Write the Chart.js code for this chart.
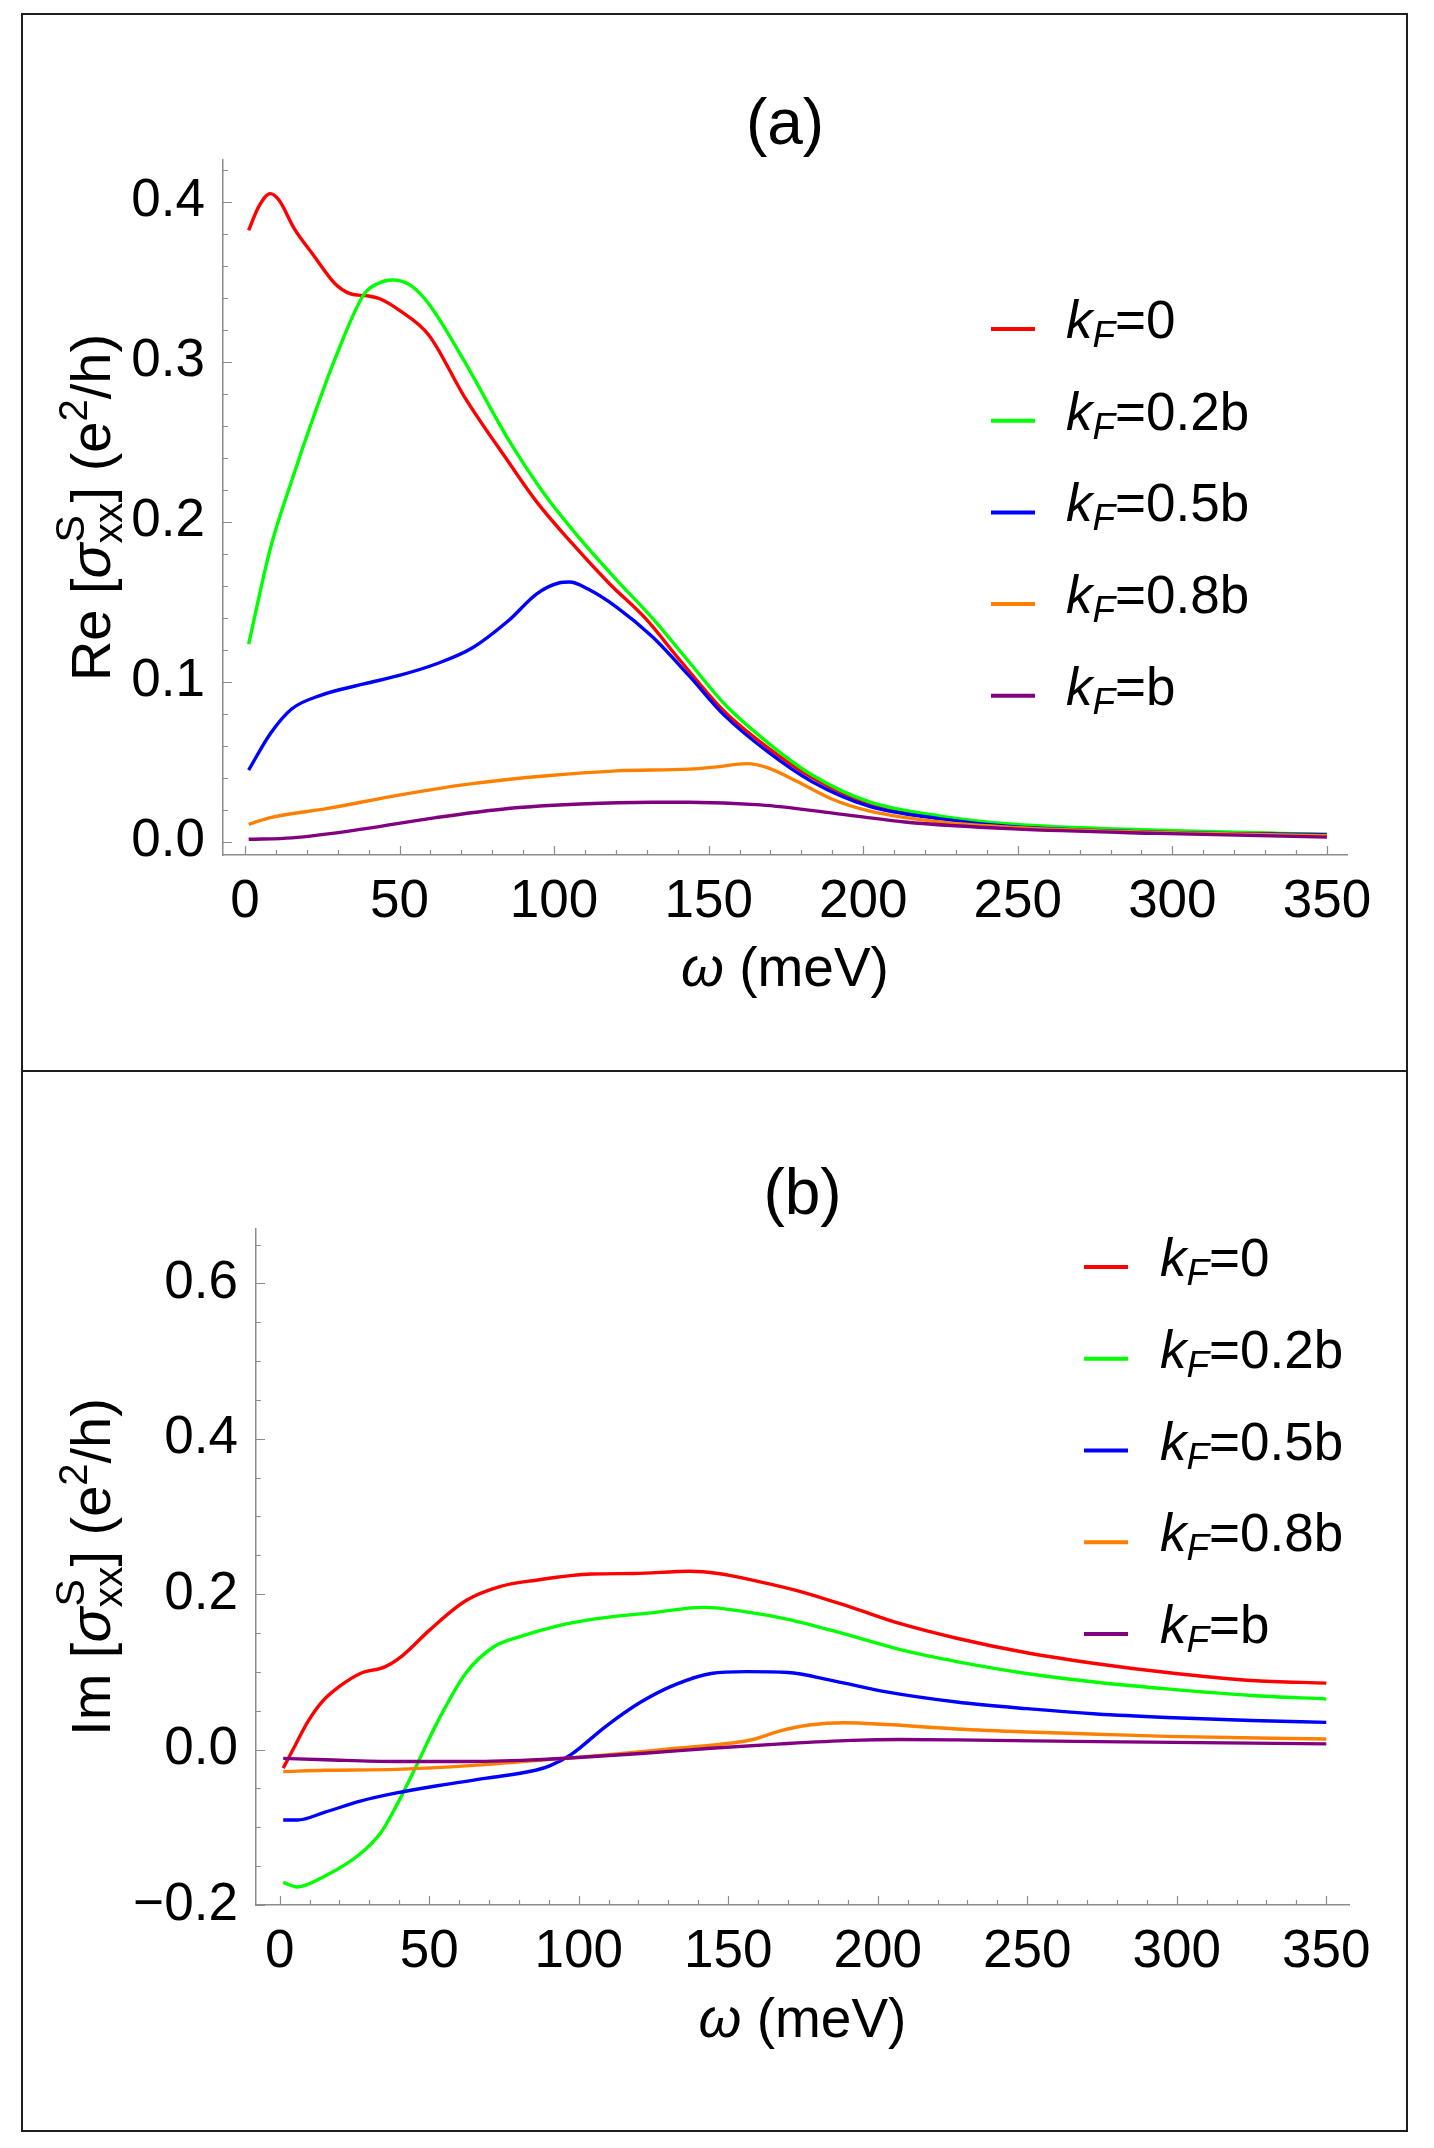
<!DOCTYPE html>
<html>
<head>
<meta charset="utf-8">
<script src="https://cdn.jsdelivr.net/npm/chart.js@4.4.1/dist/chart.umd.min.js"></script>
<style>
  html, body { margin: 0; padding: 0; background: #fff; }
  #page { position: relative; width: 1434px; height: 2148px; overflow: hidden; }
  #page canvas { position: absolute; left: 0; }
  .rule { position: absolute; background: #1e1e1e; }
</style>
</head>
<body>
<div id="page">
  <canvas id="chartRe" width="1434" height="1071" style="top:0"></canvas>
  <canvas id="chartIm" width="1434" height="1077" style="top:1071px"></canvas>
  <div class="rule" style="left:21px;top:13px;width:1387px;height:2px"></div>
  <div class="rule" style="left:21px;top:2130px;width:1387px;height:2px"></div>
  <div class="rule" style="left:21px;top:13px;width:2px;height:2119px"></div>
  <div class="rule" style="left:1406px;top:13px;width:2px;height:2119px"></div>
  <div class="rule" style="left:21px;top:1070px;width:1387px;height:2px"></div>
</div>
<script>
// series labels and colours (k_F values)
const seriesLabels = ['0', '0.2b', '0.5b', '0.8b', 'b'];
const seriesColors = ['#ff0000', '#00ff00', '#0000ff', '#ff8000', '#800080'];

// (a) Re part, omega in meV
const reW_0 = [1.2, 4.5, 8.2, 11, 16, 22, 29, 34, 40, 44, 50, 59.5, 71, 85, 94.5, 106, 118, 129.5, 141, 155, 169, 183, 202, 225, 248.5, 295, 350];
const reV_0 = [0.382, 0.397, 0.405, 0.401, 0.383, 0.367, 0.349, 0.3425, 0.341, 0.339, 0.332, 0.3165, 0.278, 0.238, 0.212, 0.186, 0.161, 0.1396, 0.1127, 0.0815, 0.0589, 0.0405, 0.0235, 0.015, 0.0102, 0.0065, 0.0045];
const reW_02 = [1.2, 8.2, 15.2, 22.2, 29.2, 38.5, 43.2, 47.8, 53.7, 59.5, 71.2, 85.2, 96.8, 108.5, 120.2, 131.8, 143.5, 155.2, 169.2, 183.2, 201.8, 225, 248.5, 295, 350];
const reV_02 = [0.1234, 0.183, 0.226, 0.2655, 0.302, 0.342, 0.349, 0.351, 0.3475, 0.336, 0.2995, 0.2514, 0.2174, 0.189, 0.1636, 0.1396, 0.1127, 0.0858, 0.0617, 0.0419, 0.0249, 0.0159, 0.0108, 0.0071, 0.0045];
const reW_05 = [1.2, 8.2, 15.2, 24.5, 38.5, 50.2, 61.8, 73.5, 85.2, 94.5, 101.5, 105, 110.8, 120.2, 131.8, 143.5, 155.2, 169.2, 183.2, 201.8, 225, 248.5, 295, 350];
const reV_05 = [0.0447, 0.0674, 0.083, 0.0914, 0.0985, 0.104, 0.111, 0.121, 0.138, 0.155, 0.1616, 0.1622, 0.158, 0.1466, 0.128, 0.104, 0.0787, 0.056, 0.0377, 0.0221, 0.0142, 0.0093, 0.0059, 0.0042];
const reW_08 = [1.2, 8.2, 26.8, 50.2, 73.5, 96.8, 120.2, 143.5, 152.8, 162.2, 169.2, 178.5, 190.2, 201.8, 225, 248.5, 295, 350];
const reV_08 = [0.0108, 0.015, 0.0207, 0.0292, 0.0362, 0.041, 0.0442, 0.0453, 0.0467, 0.0487, 0.0461, 0.0377, 0.0263, 0.0192, 0.0122, 0.0088, 0.0057, 0.0037];
const reW_1 = [1.2, 15.2, 38.5, 61.8, 85.2, 108.5, 131.8, 143.5, 166.8, 190.2, 213.5, 248.5, 295, 350];
const reV_1 = [0.0014, 0.0023, 0.0079, 0.015, 0.0207, 0.0235, 0.0246, 0.0246, 0.0229, 0.0178, 0.0122, 0.0079, 0.0051, 0.0028];

// (b) Im part
const imW_0 = [1.2, 4.7, 9.4, 14.1, 19.9, 27, 35.2, 41, 50.4, 62.2, 73.9, 85.6, 104.4, 118.5, 137.2, 146.6, 160.7, 174.8, 191.2, 207.6, 226.4, 249.8, 273.3, 296.7, 324.9, 350];
const imV_0 = [-0.0238, 0.0017, 0.0357, 0.0612, 0.081, 0.098, 0.1065, 0.1207, 0.1547, 0.1915, 0.21, 0.218, 0.226, 0.2266, 0.2295, 0.2266, 0.2159, 0.2028, 0.183, 0.162, 0.1433, 0.1246, 0.1105, 0.0992, 0.089, 0.0856];
const imW_02 = [1.2, 5.9, 15.2, 27, 34, 39.9, 45.7, 52.8, 62.2, 71.5, 80.9, 92.7, 106.7, 123.2, 141.9, 156, 170, 188.8, 210, 226.4, 249.8, 273.3, 296.7, 324.9, 350];
const imV_02 = [-0.171, -0.1768, -0.1626, -0.134, -0.106, -0.066, -0.021, 0.0357, 0.098, 0.132, 0.146, 0.159, 0.1688, 0.1756, 0.183, 0.1773, 0.1677, 0.149, 0.1263, 0.1133, 0.098, 0.0867, 0.0782, 0.0697, 0.0652];
const imW_05 = [1.2, 5.9, 15.2, 27, 38.7, 52.8, 69.2, 85.6, 90.3, 97.3, 109.1, 120.8, 132.5, 144.3, 156, 170, 184.1, 202.9, 226.4, 249.8, 273.3, 296.7, 324.9, 350];
const imV_05 = [-0.0907, -0.0907, -0.0805, -0.0663, -0.0561, -0.0465, -0.0368, -0.0266, -0.021, -0.0068, 0.03, 0.0612, 0.0839, 0.098, 0.1003, 0.0992, 0.0895, 0.0742, 0.0612, 0.0527, 0.0459, 0.0414, 0.0374, 0.0351];
const imW_08 = [1.2, 15.2, 38.7, 62.2, 85.6, 109.1, 132.5, 151.3, 158.3, 167.7, 177.1, 188.8, 202.9, 226.4, 249.8, 273.3, 296.7, 350];
const imV_08 = [-0.0283, -0.0266, -0.0255, -0.021, -0.0142, -0.0068, 0.0017, 0.0085, 0.013, 0.0244, 0.0317, 0.0346, 0.0323, 0.0266, 0.0227, 0.0198, 0.017, 0.0136];
const imW_1 = [1.2, 15.2, 38.7, 62.2, 85.6, 97.3, 120.8, 144.3, 167.7, 191.2, 207.6, 226.4, 273.3, 350];
const imV_1 = [-0.0113, -0.013, -0.0153, -0.0153, -0.013, -0.0108, -0.0051, 0.0017, 0.0074, 0.0119, 0.013, 0.0125, 0.0102, 0.0074];

// tick values
const xTicks = [0, 50, 100, 150, 200, 250, 300, 350];
const reYTicks = [0, 0.1, 0.2, 0.3, 0.4];
const imYTicks = [-0.2, 0, 0.2, 0.4, 0.6];

const FONT = "'Liberation Sans', Arial, Helvetica, sans-serif";
Chart.defaults.font.family = FONT;
Chart.defaults.color = '#000';

function zip(xs, ys) {
  return xs.map((x, i) => ({ x: x, y: ys[i] }));
}

function steps(from, to, step) {
  const out = [];
  for (let v = from; v <= to + 1e-9; v += step) out.push(+v.toFixed(4));
  return out;
}

function fontOf(p) {
  return (p.i ? 'italic ' : '') + p.s + 'px ' + FONT;
}

// groups of text parts; parts in one group share the same x (sup/sub stack)
function richWidth(ctx, groups) {
  let w = 0;
  groups.forEach(g => {
    let gw = 0;
    g.forEach(p => { ctx.font = fontOf(p); gw = Math.max(gw, ctx.measureText(p.t).width + (p.dx || 0)); });
    w += gw;
  });
  return w;
}

function drawRich(ctx, groups, x, y) {
  groups.forEach(g => {
    let gw = 0;
    g.forEach(p => {
      ctx.font = fontOf(p);
      ctx.fillText(p.t, x + (p.dx || 0), y + (p.dy || 0));
      gw = Math.max(gw, ctx.measureText(p.t).width + (p.dx || 0));
    });
    x += gw;
  });
}

const decor = {
  id: 'decor',
  afterDraw(chart, args, o) {
    const { ctx, chartArea: a, scales: { x, y } } = chart;
    ctx.save();

    // inward tick marks
    ctx.strokeStyle = '#8c8c8c';
    ctx.lineWidth = 1.2;
    ctx.beginPath();
    o.xMinor.forEach(v => { const px = Math.round(x.getPixelForValue(v)) + 0.5; ctx.moveTo(px, a.bottom); ctx.lineTo(px, a.bottom - 5); });
    xTicks.forEach(v => { const px = Math.round(x.getPixelForValue(v)) + 0.5; ctx.moveTo(px, a.bottom); ctx.lineTo(px, a.bottom - 9); });
    o.yMinor.forEach(v => { const py = Math.round(y.getPixelForValue(v)) + 0.5; ctx.moveTo(a.left, py); ctx.lineTo(a.left + 5, py); });
    o.yMajor.forEach(v => { const py = Math.round(y.getPixelForValue(v)) + 0.5; ctx.moveTo(a.left, py); ctx.lineTo(a.left + 9, py); });
    ctx.stroke();

    ctx.fillStyle = '#000';
    ctx.textBaseline = 'alphabetic';
    ctx.textAlign = 'left';
    const cx = (a.left + a.right) / 2;

    // panel label
    ctx.font = '64px ' + FONT;
    ctx.textAlign = 'center';
    ctx.fillText(o.title, cx, o.titleY);
    ctx.textAlign = 'left';

    // x axis title
    const xt = [[{ t: '\u03C9', s: 55, i: true }], [{ t: ' (meV)', s: 55 }]];
    drawRich(ctx, xt, cx - richWidth(ctx, xt) / 2, o.xTitleY);

    // y axis title
    const yt = [
      [{ t: o.yPrefix + ' [', s: 56 }],
      [{ t: '\u03C3', s: 58, i: true }],
      [{ t: 'S', s: 41, dy: -26, dx: 1 }, { t: 'xx', s: 41, dy: 12 }],
      [{ t: '] (e', s: 56 }],
      [{ t: '2', s: 40, dy: -23 }],
      [{ t: '/h)', s: 56 }]
    ];
    ctx.save();
    ctx.translate(110, (a.top + a.bottom) / 2);
    ctx.rotate(-Math.PI / 2);
    drawRich(ctx, yt, -richWidth(ctx, yt) / 2, 0);
    ctx.restore();

    // legend
    seriesLabels.forEach((lab, i) => {
      const ly = o.legY + i * o.legStep;
      ctx.strokeStyle = seriesColors[i];
      ctx.lineWidth = 4;
      ctx.beginPath();
      ctx.moveTo(o.legX, ly);
      ctx.lineTo(o.legX + 44, ly);
      ctx.stroke();
      drawRich(ctx, [
        [{ t: 'k', s: 53, i: true }],
        [{ t: 'F', s: 37, i: true, dy: 9 }],
        [{ t: '=' + lab, s: 53 }]
      ], o.legTextX, ly + 9);
    });
    ctx.restore();
  }
};

function buildChart(id, series, cfg) {
  const datasets = series.map((s, i) => ({
    label: 'kF=' + seriesLabels[i],
    data: zip(s[0], s[1]),
    borderColor: seriesColors[i],
    borderWidth: 3.4,
    pointRadius: 0,
    fill: false,
    cubicInterpolationMode: 'monotone',
    order: series.length - i
  }));
  return new Chart(document.getElementById(id), {
    type: 'line',
    data: { datasets: datasets },
    options: {
      responsive: false,
      animation: false,
      devicePixelRatio: 1,
      layout: { padding: cfg.padding },
      plugins: { legend: { display: false }, tooltip: { enabled: false }, decor: cfg.decor },
      scales: {
        x: {
          type: 'linear',
          min: cfg.xMin, max: cfg.xMax,
          grid: { display: false },
          border: { display: true, color: '#8c8c8c', width: 1.5 },
          afterBuildTicks: s => { s.ticks = xTicks.map(v => ({ value: v })); },
          afterFit: s => { s.height = 120; },
          ticks: { font: { size: 53 }, color: '#000', padding: 8, autoSkip: false, maxRotation: 0,
                   callback: v => String(v) }
        },
        y: {
          type: 'linear',
          min: cfg.yMin, max: cfg.yMax,
          grid: { display: false },
          border: { display: true, color: '#8c8c8c', width: 1.5 },
          afterBuildTicks: s => { s.ticks = cfg.yTicks.map(v => ({ value: v })); },
          afterFit: s => { s.width = 150; },
          ticks: { font: { size: 53 }, color: '#000', padding: 10,
                   callback: v => (v < 0 ? '\u2212' : '') + Math.abs(v).toFixed(1) }
        }
      }
    },
    plugins: [decor]
  });
}

buildChart('chartRe', [[reW_0, reV_0], [reW_02, reV_02], [reW_05, reV_05], [reW_08, reV_08], [reW_1, reV_1]], {
  padding: { left: 73, right: 87, top: 160, bottom: 96 },
  xMin: -7.1, xMax: 356.5, yMin: -0.0084, yMax: 0.426, yTicks: reYTicks,
  decor: {
    title: '(a)', titleY: 144, xTitleY: 986, yPrefix: 'Re',
    xMinor: steps(0, 350, 10), yMajor: reYTicks, yMinor: steps(0, 0.42, 0.02),
    legX: 991, legY: 329, legStep: 91.7, legTextX: 1066
  }
});

buildChart('chartIm', [[imW_0, imV_0], [imW_02, imV_02], [imW_05, imV_05], [imW_08, imV_08], [imW_1, imV_1]], {
  padding: { left: 106, right: 85, top: 158, bottom: 123 },
  xMin: -7.9, xMax: 357.6, yMin: -0.2, yMax: 0.67, yTicks: imYTicks,
  decor: {
    title: '(b)', titleY: 143, xTitleY: 966, yPrefix: 'Im',
    xMinor: steps(0, 350, 10), yMajor: imYTicks, yMinor: steps(-0.2, 0.65, 0.05),
    legX: 1084, legY: 196, legStep: 91.75, legTextX: 1160
  }
});
</script>
</body>
</html>
